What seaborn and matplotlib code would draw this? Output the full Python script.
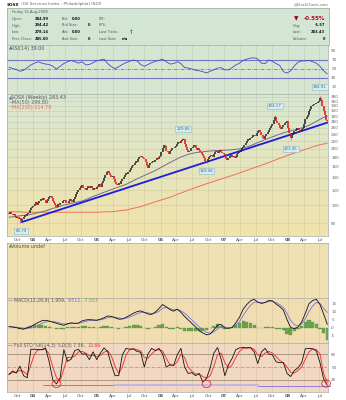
import numpy as np
import pandas as pd
import matplotlib
matplotlib.use("Agg")
import matplotlib.pyplot as plt
import matplotlib.dates as mdates
from matplotlib.patches import Ellipse
from matplotlib.colors import LinearSegmentedColormap
from matplotlib.ticker import NullLocator, NullFormatter
import seaborn as sns

sns.set_theme(style="white")
plt.rcParams["font.family"] = ["DejaVu Sans"]

LAST_WEEK = "2008-08-15"

# Weekly closes, Aug 2003 - Aug 2008
CLOSE = [
    91, 89, 92, 90, 88, 90, 87, 85, 86, 84, 85, 82, 84, 86, 88, 87, 89, 91, 94, 96, 97,
    99, 101, 104, 100, 102, 105, 108, 106, 109, 107, 103, 105, 108, 110, 112, 109, 105, 103,
    100, 98, 101, 100, 103, 102, 105, 107, 106, 103, 102, 105, 108, 106, 104, 108, 111,
    114, 117, 120, 123, 126, 128, 124, 122, 121, 123, 126, 124, 127, 123, 120, 123, 122, 125,
    127, 129, 125, 131, 135, 140, 145, 150, 153, 148, 144, 141, 143, 138, 133, 130, 128,
    132, 129, 134, 138, 141, 145, 148, 146, 150, 155, 158, 161, 164, 168, 172, 170, 176,
    180, 184, 182, 178, 176, 170, 162, 158, 164, 168, 171, 173, 170, 174, 178, 176, 181, 183,
    193, 203, 210, 208, 196, 192, 188, 194, 197, 201, 203, 206, 208, 212, 218, 216, 220,
    224, 226, 212, 204, 198, 193, 196, 201, 203, 206, 210, 203, 198, 201, 197, 193, 188,
    183, 178, 172, 170, 176, 180, 184, 186, 182, 188, 193, 196, 191, 194, 197, 193, 190, 188,
    182, 176, 174, 179, 183, 186, 182, 184, 178, 182, 187, 191, 193, 198, 203, 206, 210,
    216, 220, 226, 223, 228, 233, 236, 238, 234, 243, 248, 253, 246, 238, 230, 226, 234, 240,
    246, 252, 258, 264, 273, 287, 298, 283, 276, 268, 260, 256, 263, 268, 276, 280, 283,
    260, 243, 230, 236, 243, 248, 254, 260, 258, 253, 248, 256, 260, 273, 288, 296, 303,
    318, 328, 338, 343, 348, 350, 353, 358, 363, 376, 368, 338, 318, 303, 285, 283.43,
]

# Labelled weekly extremes: (week ending, price, side)
EXTREMES = [
    ("2003-10-24", 80.79, "low"),
    ("2006-05-12", 229.86, "high"),
    ("2006-09-22", 169.06, "low"),
    ("2007-10-19", 304.17, "high"),
    ("2008-01-18", 223.45, "low"),
    ("2008-07-04", 384.91, "high"),
]

# Trend line end points (date, price)
TREND = [("2003-10-24", 80.79), ("2008-08-22", 278.0)]

# Indicator readings every third week, the last one on LAST_WEEK
MA50 = [
    86, 86.5, 87, 87.5, 88, 88.5, 89, 90, 91, 92,
    93, 94.5, 96, 97, 98.5, 100, 101, 102, 103, 104,
    105, 107, 109, 111, 113, 115, 117, 119, 121, 123,
    125, 127, 129, 132, 135, 138, 141, 144, 147, 150,
    153, 157, 161, 165, 169, 173, 177, 181, 184, 187,
    189, 191, 192, 193, 194, 195, 195.5, 196, 196.5, 197,
    197, 198, 199, 200, 202, 205, 208, 212, 216, 220,
    224, 228, 232, 236, 240, 244, 247, 250, 253, 256,
    259, 263, 268, 274, 281, 288, 295, 299.80,
]
MA200 = [
    92, 92, 92, 92, 91.5, 91.5, 91.5, 91.5, 91.5, 91.5,
    91.5, 91.5, 91.5, 91.5, 91.5, 91.5, 91.5, 91.5, 91.5, 91.5,
    91.5, 91.5, 91.5, 91.5, 91.5, 91.5, 92, 92, 92, 92.5,
    93, 93.5, 94, 95, 96, 97, 98, 99.5, 101, 102.5,
    104, 105.5, 107, 108.5, 110, 112, 114, 116, 118, 120,
    122, 124, 126, 128, 130, 132, 134, 136, 138, 140,
    142, 144, 146, 148.5, 151, 153.5, 156, 158.5, 161, 163.5,
    166, 169, 172, 175, 178, 181, 184, 187, 190, 193,
    196, 199, 202, 205, 208, 210.5, 212.5, 214.79,
]
RSI14 = [
    54, 51, 49, 45, 47, 53, 59, 63, 66, 63,
    61, 60, 56, 50, 56, 62, 66, 69, 66, 63,
    66, 59, 60, 64, 68, 70, 72, 62, 55, 51,
    55, 60, 64, 67, 70, 68, 60, 56, 60, 64,
    67, 69, 72, 66, 61, 62, 66, 62, 53, 52,
    50, 47, 46, 44, 41, 45, 48, 52, 53, 48,
    48, 53, 59, 63, 69, 72, 74, 75, 72, 63,
    62, 70, 67, 62, 58, 44, 41, 46, 57, 65,
    68, 68, 69, 66, 63, 56, 46, 39.00,
]
MACD_LINE = [
    0.6, 0.3, 0, -0.6, -1, -0.2, 0.6, 2, 3.2, 4.3,
    4.6, 4.1, 3.4, 2.7, 2, 1.4, 2.4, 3, 2.7, 2.8,
    4.2, 4.8, 5, 4.8, 4.6, 5.3, 6.2, 7.3, 7, 6.2,
    5.3, 5.4, 6.4, 7.7, 9, 10, 10.5, 9.6, 8.5, 8.3,
    9.7, 12, 14.5, 13, 11.3, 10.3, 11.6, 9.6, 7, 4.8,
    2.6, 0.4, -2, -3.4, -4.6, -4, -1.5, 1.5, 2, -0.3,
    -0.5, 0, 3, 6.5, 11.5, 14.5, 16.8, 17.8, 16, 15.2,
    15.8, 17, 16.8, 14.8, 13.2, 11, 5, 0, -0.6, 0.3,
    3.5, 9, 15, 17, 17.8, 14.5, 8.5, 1.959,
]
MACD_SIGNAL = [
    0.6, 0.5, 0.3, 0, -0.4, -0.5, -0.2, 0.5, 1.5, 2.6,
    3.5, 3.9, 3.8, 3.4, 2.9, 2.3, 2.2, 2.5, 2.6, 2.7,
    3.2, 3.9, 4.4, 4.6, 4.6, 4.9, 5.4, 6.2, 6.6, 6.5,
    6, 5.7, 5.9, 6.6, 7.6, 8.6, 9.5, 9.6, 9.2, 8.8,
    9.1, 10.3, 12.2, 12.6, 12, 11.2, 11.3, 10.6, 9, 7,
    4.8, 2.6, 0.4, -1.4, -3, -3.6, -2.8, -0.8, 0.8, 0.4,
    0, 0, 1.5, 3.8, 7.5, 11, 14, 16, 16, 15.6,
    15.7, 16.4, 16.6, 15.7, 14.4, 12.6, 8.8, 4.4, 1.8, 1,
    2.2, 5.6, 10.2, 13.6, 15.8, 15.2, 12, 9.512,
]
STO_K = [
    32, 41, 36, 52, 30, 25, 91, 91, 90, 90,
    94, 62, 20, 11, 25, 90, 63, 68, 88, 91,
    80, 80, 67, 85, 67, 82, 94, 85, 55, 30,
    30, 78, 93, 91, 92, 86, 84, 50, 80, 93,
    88, 93, 80, 50, 55, 54, 78, 93, 50, 35,
    37, 30, 35, 15, 24, 48, 82, 95, 68, 30,
    55, 70, 90, 94, 95, 94, 95, 85, 58, 85,
    93, 80, 78, 62, 60, 60, 35, 28, 42, 48,
    60, 92, 93, 92, 87, 60, 22, 7.56,
]
STO_D = [
    34, 37, 38, 42, 40, 32, 55, 80, 90, 90,
    91, 80, 50, 25, 18, 45, 72, 72, 75, 85,
    86, 82, 76, 77, 74, 77, 84, 88, 75, 52,
    35, 50, 78, 90, 92, 90, 87, 72, 70, 80,
    88, 90, 87, 70, 55, 53, 62, 80, 72, 50,
    40, 34, 34, 28, 24, 30, 52, 78, 82, 60,
    48, 55, 72, 86, 93, 94, 94, 91, 78, 74,
    82, 86, 82, 74, 65, 60, 50, 38, 36, 42,
    50, 68, 85, 92, 90, 80, 35, 13.66,
]

# Hand-drawn support marks on the stochastic panel
STO_SUPPORT = [("2004-02-27", "2005-04-15", 8.5), ("2005-04-15", "2007-07-13", 8.0), ("2007-07-13", "2008-08-29", 7.0)]
STO_CIRCLES = [("2004-05-14", 11), ("2006-09-22", 11), ("2008-08-08", 12)]

QUARTERS = pd.date_range("2003-10-01", "2008-07-01", freq="QS")
QUARTER_LABELS = ["Oct", "04", "Apr", "Jul", "Oct", "05", "Apr", "Jul", "Oct", "06",
                  "Apr", "Jul", "Oct", "07", "Apr", "Jul", "Oct", "08", "Apr", "Jul"]
PRICE_TICKS = [80, 100, 120, 140, 160, 180, 200, 220, 240, 260, 280, 300, 320, 340, 360, 380]
RSI_TICKS = [10, 30, 50, 70, 90]
MACD_TICKS = [-5, 0, 5, 10, 15]
STO_TICKS = [20, 50, 80]

FIG_W, FIG_H = 346, 400
fig = plt.figure(figsize=(FIG_W / 100, FIG_H / 100), dpi=100)
fig.patch.set_facecolor("white")

weeks = pd.date_range(end=LAST_WEEK, periods=len(CLOSE), freq="W-FRI")
wx = mdates.date2num(weeks)
close = np.array(CLOSE, dtype=float)


def every3(n):
    return weeks[len(weeks) - 1::-3][::-1][-n:]


XLIM = (mdates.datestr2num("2003-08-04"), mdates.datestr2num("2008-08-19"))
GRID_C = "#5a5a40"
GRID_A = 0.14
PANEL_FS = 3.5
AXIS_FS = 3.0


def panel(top, bottom, left=7, right=328):
    return fig.add_axes([left / FIG_W, 1 - bottom / FIG_H, (right - left) / FIG_W, (bottom - top) / FIG_H])


def background(ax, top_color, bottom_color):
    cmap = LinearSegmentedColormap.from_list("bg", [bottom_color, top_color])
    ax.imshow(np.linspace(0, 1, 64).reshape(-1, 1), cmap=cmap, origin="lower",
              extent=[0, 1, 0, 1], transform=ax.transAxes, aspect="auto", zorder=-10)


def style(ax, ticks=None, labels=None, date_labels=False):
    ax.set_xlim(*XLIM)
    ax.set_xticks(mdates.date2num(QUARTERS))
    if date_labels:
        ax.set_xticklabels(QUARTER_LABELS)
        for t, s in zip(ax.get_xticklabels(), QUARTER_LABELS):
            if s.isdigit():
                t.set_fontweight("bold")
                t.set_color("#222222")
    else:
        ax.set_xticklabels([])
    ax.tick_params(axis="x", length=0, labelsize=3.2, pad=1.4, labelcolor="#555555")
    ax.grid(True, axis="x", color=GRID_C, alpha=GRID_A, lw=0.5)
    ax.yaxis.tick_right()
    ax.yaxis.set_minor_locator(NullLocator())
    ax.yaxis.set_minor_formatter(NullFormatter())
    if ticks is not None:
        ax.set_yticks(ticks)
        ax.set_yticklabels(labels if labels else [str(t) for t in ticks])
    else:
        ax.set_yticks([])
    ax.tick_params(axis="y", length=0, pad=2.3, labelsize=AXIS_FS, labelcolor="#666666")
    for s in ax.spines.values():
        s.set_color("#a8a8a8")
        s.set_linewidth(0.5)


def ftext(x, y, s, **kw):
    kw.setdefault("fontsize", 2.6)
    kw.setdefault("va", "center")
    return fig.text(x / FIG_W, 1 - y / FIG_H, s, **kw)


def ftext_run(x, y, pieces, **kw):
    renderer = fig.canvas.get_renderer()
    for s, color, weight in pieces:
        t = ftext(x, y, s, color=color, fontweight=weight, **kw)
        x += t.get_window_extent(renderer=renderer).width


# ---- header ----
ftext_run(7, 4.5, [("$OSX", "#111111", "bold"), (" (Oil Services Index - Philadelphia) INDX", "#666666", "normal")], fontsize=3.0)
ftext(329, 4.5, "@StockCharts.com", ha="right", color="#666666", fontsize=2.6)

info = panel(8, 45, 7, 329)
info.set_facecolor("#d3e6d6")
info.set_xticks([]); info.set_yticks([])
for s in info.spines.values():
    s.set_color("#9fb8a6"); s.set_linewidth(0.6)

ftext(12, 12, "Friday 15-Aug-2008", color="#555555")
rows_y = [19, 25.5, 32, 38.5]
for y, lab, val in zip(rows_y, ["Open:", "High:", "Low:", "Prev Close:"], ["284.99", "294.42", "278.14", "285.00"]):
    ftext(12, y, lab, color="#555555")
    ftext(49, y, val, ha="right", color="#111111", fontweight="bold")
for y, lab, val, xr in zip(rows_y, ["Bid:", "Bid Size:", "Ask:", "Ask Size:"], ["0.00", "0", "0.00", "0"], [81, 90, 81, 90]):
    ftext(62, y, lab, color="#555555")
    ftext(xr, y, val, ha="right", color="#111111", fontweight="bold")
for y, lab in zip(rows_y, ["P/E:", "EPS:", "Last Ticks:", "Last Size:"]):
    ftext(99, y, lab, color="#555555")
ftext(129, rows_y[2], "\u2191", color="#1a8a1a", fontweight="bold", fontsize=4)
ftext(122, rows_y[3], "n/a", color="#111111", fontweight="bold")
ftext(296, rows_y[0], "\u25bc", color="#a00018", fontsize=4.2, ha="center")
ftext(325, rows_y[0], "-0.55%", ha="right", color="#c0002a", fontweight="bold", fontsize=4.0)
for y, lab, val in zip(rows_y[1:], ["Chg:", "Last:", "Volume:"], ["-1.57", "283.43", "0"]):
    ftext(293, y, lab, color="#555555")
    ftext(325, y, val, ha="right", color="#111111", fontweight="bold")

# ---- RSI panel ----
ax_rsi = panel(45, 94)
background(ax_rsi, "#d5e6d3", "#d7e6cf")
ax_rsi.axhline(70, color="#7474c2", lw=0.8)
ax_rsi.axhline(30, color="#7474c2", lw=0.8)
ax_rsi.axhline(50, color="#7474c2", lw=0.6, ls=(0, (4, 1.5, 1, 1.5)))
sns.lineplot(x=every3(len(RSI14)), y=RSI14, ax=ax_rsi, color="#4848c8", lw=0.6)
ax_rsi.set_ylim(-5.6, 103.3)
style(ax_rsi, RSI_TICKS)
ax_rsi.set_xlabel(""); ax_rsi.set_ylabel("")
ftext(8.5, 48.5, "\u25b2", color="#3c6cc8", fontsize=2.6)
ftext(11.5, 48.5, "RSI(14) 39.00", color="#555555", fontsize=PANEL_FS)

# ---- price panel ----
ax_p = panel(94, 236)
background(ax_p, "#d9e7d2", "#f1e3ab")
ax_p.set_yscale("log")
ax_p.grid(True, axis="y", color=GRID_C, alpha=GRID_A, lw=0.5)

tx = mdates.datestr2num([d for d, _ in TREND])
ax_p.plot(tx, [p for _, p in TREND], color="#1c1ce0", lw=1.3, zorder=3)
sns.lineplot(x=every3(len(MA200)), y=MA200, ax=ax_p, color="#f07058", lw=0.7, zorder=2)
sns.lineplot(x=every3(len(MA50)), y=MA50, ax=ax_p, color="#6e6e86", lw=0.7, zorder=2)

opens = np.r_[close[0], close[:-1]]
up = close >= opens
ax_p.vlines(wx[up], opens[up], close[up], color="#202020", lw=1.1, zorder=4)
ax_p.vlines(wx[~up], opens[~up], close[~up], color="#e01010", lw=1.1, zorder=4)

for d, price, side in EXTREMES:
    i = int(np.argmin(np.abs(wx - mdates.datestr2num(d))))
    body = max(opens[i], close[i]) if side == "high" else min(opens[i], close[i])
    ax_p.vlines(wx[i], body, price, color="#777777", lw=0.6, zorder=3)
    dy = 5 if side == "high" else -5
    ax_p.annotate(f"{price:.2f}", (wx[i], price), xytext=(0, dy), textcoords="offset points",
                  ha="center", va="bottom" if side == "high" else "top", fontsize=2.9, color="#3c6e84",
                  bbox=dict(boxstyle="square,pad=0.25", fc="#d6ecf2", ec="#8cb9c8", lw=0.4), zorder=6)

ax_p.set_ylim(68.2, 394)
style(ax_p, PRICE_TICKS, date_labels=True)
ax_p.set_xlabel(""); ax_p.set_ylabel("")
ftext(8.5, 98, "\u25b2", color="#3c6cc8", fontsize=2.6)
ftext(11.5, 98, "$OSX (Weekly) 283.43", color="#555555", fontsize=PANEL_FS)
ftext(8.5, 102.5, "\u2014", color="#6e6e86", fontsize=PANEL_FS)
ftext(12, 102.5, "MA(50) 299.80", color="#666677", fontsize=PANEL_FS)
ftext(8.5, 107, "\u2014", color="#f07058", fontsize=PANEL_FS)
ftext(12, 107, "MA(200) 214.79", color="#f07058", fontsize=PANEL_FS)

# ---- volume panel ----
ax_v = panel(243, 298)
ax_v.set_facecolor("#efe1b2")
style(ax_v)
ftext(8.5, 246.5, "\u25b2", color="#2e8a2e", fontsize=2.6)
ftext(11.5, 246.5, "Volume undef", color="#555555", fontsize=PANEL_FS)

# ---- MACD panel ----
ax_m = panel(298, 343)
ax_m.set_facecolor("#f0ddb1")
mx = every3(len(MACD_LINE))
hist = np.array(MACD_LINE) - np.array(MACD_SIGNAL)
ax_m.bar(mx, hist, width=18, color="#6aa64e", edgecolor="#4f8a3a", lw=0.2, zorder=2)
sns.lineplot(x=mx, y=MACD_SIGNAL, ax=ax_m, color="#7070e0", lw=0.6, zorder=3)
sns.lineplot(x=mx, y=MACD_LINE, ax=ax_m, color="#111111", lw=0.6, zorder=4)
ax_m.set_ylim(-9.7, 18.6)
style(ax_m, MACD_TICKS)
ax_m.set_xlabel(""); ax_m.set_ylabel("")
ftext_run(8.5, 300.5, [("\u2014 MACD(12,26,9) 1.959, ", "#555555", "normal"),
                       ("9.512", "#7070e0", "normal"), (", ", "#555555", "normal"),
                       ("-7.553", "#6aa64e", "normal")], fontsize=3.3)

# ---- stochastic panel ----
ax_s = panel(343, 392)
ax_s.set_facecolor("#f2d8c2")
ax_s.axhline(80, color="#9a8c78", lw=0.6)
ax_s.axhline(20, color="#9a8c78", lw=0.6)
ax_s.axhline(50, color="#9a8c78", lw=0.5, ls=(0, (4, 1.5, 1, 1.5)))
for (a, b, v), lw, c in zip(STO_SUPPORT, [0.7, 1.4, 0.7], ["#8c7ae0", "#c6b4e8", "#8c7ae0"]):
    ax_s.plot(mdates.datestr2num([a, b]), [v, v], color=c, lw=lw, zorder=2, clip_on=False)
sx = every3(len(STO_K))
sns.lineplot(x=sx, y=STO_D, ax=ax_s, color="#f03a3a", lw=0.7, zorder=3)
sns.lineplot(x=sx, y=STO_K, ax=ax_s, color="#111111", lw=0.6, zorder=4)
for d, v in STO_CIRCLES:
    ax_s.add_patch(Ellipse((mdates.datestr2num(d), v), 50, 17, fill=False, ec="#e03030", lw=0.6,
                           zorder=5, clip_on=False))
ax_s.set_ylim(-7.7, 105.4)
style(ax_s, STO_TICKS, date_labels=True)
ax_s.set_xlabel(""); ax_s.set_ylabel("")
ftext_run(8.5, 345.5, [("\u2014 Full STO %K(14,3) %D(3) 7.56, ", "#555555", "normal"),
                       ("13.66", "#f03a3a", "normal")], fontsize=3.3)

fig.savefig("out.png", dpi=100, facecolor="white")
